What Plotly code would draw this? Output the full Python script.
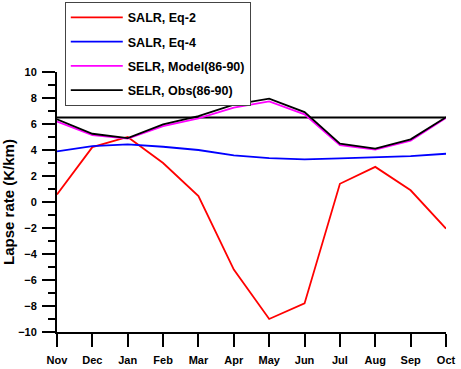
import plotly.graph_objects as go

months = ["Nov", "Dec", "Jan", "Feb", "Mar", "Apr", "May", "Jun", "Jul", "Aug", "Sep", "Oct"]
salr_eq2 = [0.58, 4.22, 5.0, 3.0, 0.45, -5.2, -9.0, -7.8, 1.4, 2.7, 0.9, -2.05]
salr_eq4 = [3.9, 4.3, 4.43, 4.25, 4.0, 3.58, 3.37, 3.28, 3.36, 3.45, 3.53, 3.71]
selr_model = [6.18, 5.15, 4.87, 5.84, 6.43, 7.26, 7.74, 6.74, 4.38, 4.04, 4.71, 6.46]
selr_obs = [6.36, 5.25, 4.92, 5.97, 6.6, 7.49, 7.95, 6.92, 4.48, 4.1, 4.82, 6.52]
ref_level = 6.5

font_family = "Arial, Liberation Sans, sans-serif"
x = list(range(len(months)))

fig = go.Figure()
fig.add_trace(go.Scatter(x=[x[0], x[-1]], y=[ref_level, ref_level], mode="lines",
                         line=dict(color="black", width=2), showlegend=False, hoverinfo="skip"))
series = [
    ("SALR, Eq-2", salr_eq2, "#ff0000"),
    ("SALR, Eq-4", salr_eq4, "#0000ff"),
    ("SELR, Model(86-90)", selr_model, "#ff00ff"),
    ("SELR, Obs(86-90)", selr_obs, "#000000"),
]
for i, (name, vals, col) in enumerate(series):
    fig.add_trace(go.Scatter(x=x, y=vals, mode="lines", name=name, legendgroup=f"g{i}",
                             line=dict(color=col, width=1.8)))

fig.update_layout(
    width=461, height=369,
    margin=dict(l=57, r=15, t=72, b=37, autoexpand=False),
    paper_bgcolor="white", plot_bgcolor="white",
    font=dict(family=font_family, color="black"),
    legend=dict(x=0.02, y=1.27, xanchor="left", yanchor="top",
                bgcolor="white", bordercolor="#444", borderwidth=1,
                font=dict(size=12.5, weight="bold", family=font_family),
                itemwidth=52, tracegroupgap=5, traceorder="grouped"),
    xaxis=dict(range=[0, 11], tickmode="array", tickvals=x, ticktext=months,
               showgrid=False, zeroline=False, showline=True, linecolor="black", linewidth=2,
               ticks="outside", ticklen=13, tickwidth=2, tickcolor="black",
               ticklabelstandoff=4,
               tickfont=dict(size=11, weight="bold")),
    yaxis=dict(range=[-10, 10], dtick=2, showgrid=False, zeroline=False,
               showline=True, linecolor="black", linewidth=2,
               ticks="outside", ticklen=13, tickwidth=2, tickcolor="black",
               ticklabelstandoff=3,
               minor=dict(dtick=1, ticklen=7, tickwidth=2, tickcolor="black", ticks="outside"),
               tickfont=dict(size=11, weight="bold"),
               title=dict(text="Lapse rate (K/km)", font=dict(size=15, weight="bold"), standoff=6)),
)
fig.write_html("out.html", config={"displayModeBar": False},
               post_script="document.body.style.margin='0';")
